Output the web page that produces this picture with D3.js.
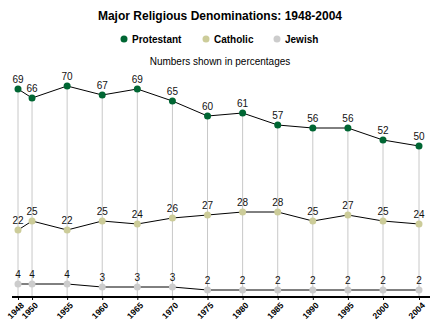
<!DOCTYPE html>
<html>
<head>
<meta charset="utf-8">
<script src="https://cdn.jsdelivr.net/npm/d3@7"></script>
<style>
  body { margin: 0; background: #fff; }
  svg { display: block; font-family: Arial, "Liberation Sans", sans-serif; }
</style>
</head>
<body>
<div id="chart"></div>
<script>
// Survey years and percentages per denomination
const years = [1948, 1950, 1955, 1960, 1965, 1970, 1975, 1980, 1985, 1990, 1995, 2000, 2004];
const protestant = [69, 66, 70, 67, 69, 65, 60, 61, 57, 56, 56, 52, 50];
const catholic = [22, 25, 22, 25, 24, 26, 27, 28, 28, 25, 27, 25, 24];
const jewish = [4, 4, 4, 3, 3, 3, 2, 2, 2, 2, 2, 2, 2];
const seriesNames = ["Protestant", "Catholic", "Jewish"];
const seriesColors = ["#006633", "#cccc99", "#cccccc"];

const width = 440, height = 325;

const svg = d3.select("#chart")
    .append("svg")
    .attr("width", width)
    .attr("height", height);

// last interval (2000-2004) is drawn as wide as a 5-year step
const x = d3.scaleLinear()
    .domain([1948, 2000, 2004])
    .range([18, 383, 419]);

const y = d3.scaleLinear()
    .domain([0, 70])
    .range([296, 86]);

const series = [protestant, catholic, jewish].map((vals, i) => ({
    name: seriesNames[i],
    color: seriesColors[i],
    values: years.map((yr, j) => ({ year: yr, value: vals[j] }))
}));

// Title
svg.append("text")
    .attr("x", 220)
    .attr("y", 20)
    .attr("text-anchor", "middle")
    .style("font-size", "12px")
    .style("font-weight", "bold")
    .text("Major Religious Denominations: 1948-2004");

// Legend
const legendX = [124, 206, 277];
const legend = svg.append("g");
legend.selectAll("circle")
    .data(series)
    .enter()
    .append("circle")
    .attr("cx", (d, i) => legendX[i])
    .attr("cy", 39)
    .attr("r", 3.5)
    .attr("fill", d => d.color);
legend.selectAll("text")
    .data(series)
    .enter()
    .append("text")
    .attr("x", (d, i) => legendX[i] + 8)
    .attr("y", 43)
    .style("font-size", "10px")
    .style("font-weight", "bold")
    .text(d => d.name);

svg.append("text")
    .attr("x", 220)
    .attr("y", 65)
    .attr("text-anchor", "middle")
    .style("font-size", "10px")
    .text("Numbers shown in percentages");

// Drop lines from the top series down to the axis
svg.append("g")
    .selectAll("line")
    .data(series[0].values)
    .enter()
    .append("line")
    .attr("x1", d => x(d.year))
    .attr("x2", d => x(d.year))
    .attr("y1", d => y(d.value))
    .attr("y2", y(0))
    .attr("stroke", "#c8c8c8")
    .attr("stroke-width", 1);

// Lines
const line = d3.line()
    .x(d => x(d.year))
    .y(d => y(d.value));

svg.selectAll(".series-line")
    .data(series)
    .enter()
    .append("path")
    .attr("class", "series-line")
    .attr("d", d => line(d.values))
    .attr("fill", "none")
    .attr("stroke", "#000")
    .attr("stroke-width", 1);

// X axis
const xAxis = d3.axisBottom(x)
    .tickValues(years)
    .tickFormat(d3.format("d"))
    .tickSize(3)
    .tickSizeOuter(0);

const axisG = svg.append("g")
    .attr("transform", `translate(0,${y(0) + 1})`)
    .call(xAxis);
axisG.select(".domain").remove();
axisG.append("line")
    .attr("x1", 12)
    .attr("x2", 430)
    .attr("stroke", "#000")
    .attr("stroke-width", 2);
axisG.selectAll(".tick line").attr("stroke", "#000");
axisG.selectAll(".tick text")
    .attr("text-anchor", "end")
    .attr("x", 0)
    .attr("y", 0)
    .attr("dy", 0)
    .attr("transform", "translate(6,9) rotate(-45)")
    .style("font-size", "8.5px")
    .style("font-weight", "bold")
    .attr("fill", "#000");

// Points and value labels
const groups = svg.selectAll(".series")
    .data(series)
    .enter()
    .append("g")
    .attr("class", "series");

groups.selectAll("circle")
    .data(d => d.values.map(v => ({ ...v, color: d.color })))
    .enter()
    .append("circle")
    .attr("cx", d => x(d.year))
    .attr("cy", d => y(d.value))
    .attr("r", 3.5)
    .attr("fill", d => d.color);

groups.selectAll("text")
    .data(d => d.values)
    .enter()
    .append("text")
    .attr("x", d => x(d.year))
    .attr("y", d => y(d.value) - 6)
    .attr("text-anchor", "middle")
    .style("font-size", "10px")
    .attr("fill", "#111")
    .text(d => d.value);
</script>
</body>
</html>
